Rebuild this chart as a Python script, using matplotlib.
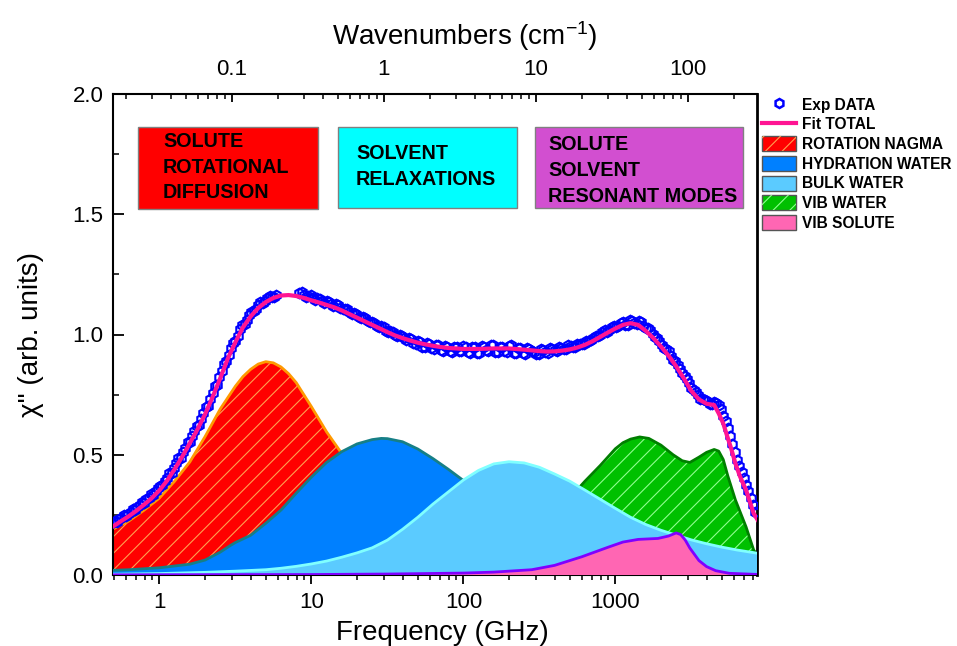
import numpy as np
import matplotlib
matplotlib.use('Agg')
import matplotlib.pyplot as plt
from matplotlib.patches import Patch, Rectangle
from matplotlib.lines import Line2D
from matplotlib.legend_handler import HandlerTuple
from matplotlib.ticker import FixedLocator, NullFormatter, LogLocator, MultipleLocator

plt.rcParams['font.family'] = ['Liberation Sans', 'DejaVu Sans']
plt.rcParams['mathtext.fontset'] = 'custom'
plt.rcParams['mathtext.rm'] = 'Liberation Sans'
plt.rcParams['mathtext.it'] = 'Liberation Sans:italic'
plt.rcParams['hatch.linewidth'] = 0.8

# ---------------- data (log10 of frequency in GHz, chi'') ----------------
rot_logf = [-0.32, -0.2, -0.1, 0.0, 0.1, 0.2, 0.3, 0.4, 0.5, 0.55, 0.6, 0.65, 0.7, 0.75, 0.8, 0.85,
            0.9, 1.0, 1.1, 1.2, 1.3, 1.4, 1.5, 1.6, 1.7, 1.8, 1.9, 2.0, 2.2, 2.4, 2.6, 2.8, 3.0, 3.5, 3.95]
rot_val = [0.186, 0.225, 0.27, 0.32, 0.39, 0.47, 0.575, 0.69, 0.785, 0.825, 0.855, 0.877, 0.887, 0.882,
           0.865, 0.837, 0.80, 0.70, 0.595, 0.505, 0.41, 0.325, 0.25, 0.19, 0.14, 0.10, 0.07, 0.05, 0.025,
           0.012, 0.006, 0.003, 0.002, 0.001, 0.001]

hyd_logf = [-0.32, -0.2, 0.0, 0.2, 0.3, 0.4, 0.465, 0.5, 0.6, 0.7, 0.8, 0.86, 0.9, 1.0, 1.1, 1.2,
            1.3, 1.4, 1.46, 1.5, 1.6, 1.7, 1.8, 1.9, 2.0, 2.1, 2.2, 2.4, 2.6, 2.8, 3.0, 3.3, 3.6, 3.95]
hyd_val = [0.019, 0.022, 0.03, 0.045, 0.062, 0.095, 0.122, 0.135, 0.165, 0.215, 0.27, 0.312, 0.34,
           0.407, 0.468, 0.513, 0.545, 0.563, 0.568, 0.567, 0.554, 0.524, 0.484, 0.44, 0.393, 0.34,
           0.29, 0.19, 0.11, 0.06, 0.03, 0.012, 0.006, 0.003]

bulk_logf = [-0.32, 0.0, 0.3, 0.5, 0.7, 0.8, 0.9, 1.0, 1.1, 1.2, 1.3, 1.4, 1.5, 1.6, 1.7, 1.8, 1.9,
             2.0, 2.1, 2.2, 2.3, 2.4, 2.5, 2.6, 2.7, 2.8, 2.9, 3.0, 3.1, 3.2, 3.3, 3.4, 3.5, 3.6,
             3.7, 3.8, 3.9, 3.95]
bulk_val = [0.003, 0.006, 0.011, 0.016, 0.022, 0.028, 0.036, 0.046, 0.058, 0.074, 0.092, 0.113,
            0.145, 0.19, 0.24, 0.295, 0.345, 0.395, 0.435, 0.462, 0.471, 0.466, 0.448, 0.42, 0.39,
            0.353, 0.315, 0.277, 0.24, 0.21, 0.186, 0.166, 0.146, 0.13, 0.116, 0.104, 0.094, 0.089]

vibw_logf = [1.8, 2.0, 2.2, 2.4, 2.6, 2.7, 2.8, 2.9, 3.0, 3.05, 3.1, 3.16, 3.22, 3.3, 3.38, 3.44,
             3.49, 3.55, 3.6, 3.65, 3.68, 3.71, 3.74, 3.79, 3.86, 3.91, 3.95]
vibw_val = [0.004, 0.012, 0.04, 0.11, 0.24, 0.32, 0.39, 0.455, 0.525, 0.55, 0.565, 0.574, 0.568,
            0.54, 0.50, 0.475, 0.468, 0.49, 0.51, 0.522, 0.515, 0.48, 0.412, 0.312, 0.20, 0.104, 0.07]

vibs_logf = [-0.32, 1.0, 1.5, 2.0, 2.2, 2.45, 2.6, 2.78, 2.95, 3.05, 3.15, 3.28, 3.35, 3.40, 3.43,
             3.46, 3.49, 3.55, 3.6, 3.66, 3.75, 3.95]
vibs_val = [0.001, 0.002, 0.004, 0.008, 0.012, 0.022, 0.04, 0.076, 0.115, 0.137, 0.148, 0.152,
            0.162, 0.175, 0.168, 0.145, 0.112, 0.06, 0.035, 0.018, 0.007, 0.002]

fit_logf = [-0.32, -0.25, -0.2, -0.15, -0.1, -0.05, 0.0, 0.05, 0.1, 0.15, 0.2, 0.25, 0.3, 0.35,
            0.4, 0.45, 0.5, 0.55, 0.6, 0.65, 0.7, 0.75, 0.8, 0.85, 0.9, 0.95, 1.0, 1.05, 1.1, 1.15,
            1.2, 1.25, 1.3, 1.35, 1.4, 1.45, 1.5, 1.55, 1.6, 1.65, 1.7, 1.75, 1.8, 1.85, 1.9, 1.95,
            2.0, 2.1, 2.2, 2.3, 2.4, 2.5, 2.55, 2.6, 2.65, 2.7, 2.75, 2.8, 2.85, 2.9, 2.95, 3.0,
            3.05, 3.1, 3.15, 3.2, 3.25, 3.3, 3.35, 3.4, 3.45, 3.5, 3.55, 3.6, 3.65, 3.68, 3.71,
            3.73, 3.76, 3.79, 3.82, 3.86, 3.91, 3.95]
fit_val = [0.196, 0.225, 0.245, 0.268, 0.293, 0.320, 0.352, 0.392, 0.440, 0.492, 0.548, 0.605,
           0.668, 0.740, 0.818, 0.900, 0.968, 1.030, 1.075, 1.110, 1.135, 1.152, 1.162, 1.164,
           1.160, 1.152, 1.142, 1.133, 1.123, 1.113, 1.100, 1.085, 1.070, 1.055, 1.040, 1.025,
           1.010, 0.996, 0.985, 0.975, 0.966, 0.959, 0.953, 0.948, 0.944, 0.942, 0.940, 0.940,
           0.942, 0.942, 0.937, 0.931, 0.929, 0.930, 0.933, 0.938, 0.946, 0.957, 0.972, 0.990,
           1.008, 1.025, 1.040, 1.047, 1.040, 1.015, 0.985, 0.950, 0.912, 0.868, 0.818, 0.765,
           0.730, 0.712, 0.707, 0.672, 0.630, 0.589, 0.530, 0.464, 0.410, 0.353, 0.256, 0.215]

# experimental points: two interleaved scans of the low- and high-frequency ranges
exp1_logf = [-0.31, -0.28, -0.25, -0.22, -0.19, -0.16, -0.13, -0.10, -0.07, -0.04, -0.01, 0.02,
             0.05, 0.08, 0.11, 0.14, 0.17, 0.20, 0.23, 0.26, 0.29, 0.32, 0.35, 0.38, 0.41, 0.44,
             0.47, 0.50, 0.53, 0.56, 0.59, 0.62, 0.65, 0.68, 0.71, 0.74, 0.77]
exp1_val = [0.215, 0.222, 0.238, 0.246, 0.262, 0.271, 0.292, 0.301, 0.322, 0.333, 0.360, 0.374,
            0.405, 0.426, 0.466, 0.488, 0.530, 0.555, 0.600, 0.624, 0.672, 0.702, 0.758, 0.790,
            0.850, 0.890, 0.944, 0.972, 1.022, 1.044, 1.080, 1.096, 1.124, 1.130, 1.150, 1.158,
            1.166]
exp1b_logf = [-0.295, -0.265, -0.235, -0.205, -0.175, -0.145, -0.115, -0.085, -0.055, -0.025,
              0.005, 0.035, 0.065, 0.095, 0.125, 0.155, 0.185, 0.215, 0.245, 0.275, 0.305, 0.335,
              0.365, 0.395, 0.425, 0.455, 0.485, 0.515, 0.545, 0.575, 0.605, 0.635, 0.665, 0.695,
              0.725, 0.755]
exp1b_val = [0.226, 0.231, 0.248, 0.255, 0.274, 0.283, 0.304, 0.314, 0.336, 0.349, 0.372, 0.392,
             0.424, 0.446, 0.486, 0.510, 0.551, 0.578, 0.621, 0.648, 0.697, 0.730, 0.784, 0.822,
             0.878, 0.916, 0.966, 0.995, 1.040, 1.060, 1.094, 1.105, 1.135, 1.138, 1.160, 1.155]

exp2_logf = [0.92, 0.95, 0.98, 1.01, 1.04, 1.07, 1.10, 1.13, 1.16, 1.19, 1.22, 1.25, 1.28, 1.31,
             1.34, 1.37, 1.40, 1.43, 1.46, 1.49, 1.52, 1.55, 1.58, 1.61, 1.64, 1.67, 1.70, 1.73,
             1.76, 1.79, 1.82, 1.85, 1.88, 1.91, 1.94, 1.97, 2.00, 2.03, 2.06, 2.09, 2.12, 2.15,
             2.18, 2.21, 2.24, 2.27, 2.30, 2.33, 2.36, 2.39, 2.42, 2.45, 2.48, 2.51, 2.54, 2.57,
             2.60, 2.63, 2.66, 2.69, 2.72, 2.75, 2.78, 2.81, 2.84, 2.87, 2.90, 2.93, 2.96, 2.99,
             3.02, 3.05, 3.08, 3.11, 3.14, 3.17, 3.20, 3.23, 3.26, 3.29, 3.32, 3.35, 3.38, 3.41,
             3.44, 3.47, 3.50, 3.53, 3.56, 3.59, 3.62, 3.65, 3.68, 3.71, 3.74, 3.77, 3.80, 3.83,
             3.86, 3.89, 3.92]
exp2_val = [1.172, 1.165, 1.162, 1.150, 1.152, 1.138, 1.140, 1.126, 1.128, 1.110, 1.108, 1.092,
            1.090, 1.074, 1.072, 1.055, 1.052, 1.036, 1.034, 1.016, 1.014, 0.998, 0.998, 0.984,
            0.986, 0.966, 0.972, 0.950, 0.966, 0.944, 0.958, 0.936, 0.952, 0.930, 0.950, 0.933,
            0.952, 0.928, 0.948, 0.925, 0.952, 0.935, 0.955, 0.928, 0.950, 0.930, 0.952, 0.925,
            0.945, 0.922, 0.944, 0.930, 0.920, 0.940, 0.928, 0.942, 0.935, 0.948, 0.940, 0.955,
            0.950, 0.962, 0.962, 0.975, 0.978, 0.995, 0.998, 1.018, 1.020, 1.035, 1.036, 1.052,
            1.040, 1.058, 1.044, 1.050, 1.025, 1.018, 0.990, 0.975, 0.945, 0.930, 0.895, 0.875,
            0.838, 0.815, 0.778, 0.760, 0.732, 0.728, 0.712, 0.720, 0.705, 0.660, 0.612, 0.545,
            0.480, 0.430, 0.375, 0.320, 0.262]
exp2b_logf = [0.935, 0.965, 0.995, 1.025, 1.055, 1.085, 1.115, 1.145, 1.175, 1.205, 1.235, 1.265,
              1.295, 1.325, 1.355, 1.385, 1.415, 1.445, 1.475, 1.505, 1.535, 1.565, 1.595, 1.625,
              1.655, 1.685, 1.715, 1.745, 1.775, 1.805, 1.835, 1.865, 1.895, 1.925, 1.955, 1.985,
              2.015, 2.045, 2.075, 2.105, 2.135, 2.165, 2.195, 2.225, 2.255, 2.285, 2.315, 2.345,
              2.375, 2.405, 2.435, 2.465, 2.495, 2.525, 2.555, 2.585, 2.615, 2.645, 2.675, 2.705,
              2.735, 2.765, 2.795, 2.825, 2.855, 2.885, 2.915, 2.945, 2.975, 3.005, 3.035, 3.065,
              3.095, 3.125, 3.155, 3.185, 3.215, 3.245, 3.275, 3.305, 3.335, 3.365, 3.395, 3.425,
              3.455, 3.485, 3.515, 3.545, 3.575, 3.605, 3.635, 3.665, 3.695, 3.725, 3.755, 3.785,
              3.815, 3.845, 3.875, 3.905]
exp2b_val = [1.178, 1.158, 1.163, 1.145, 1.149, 1.133, 1.137, 1.120, 1.124, 1.104, 1.104, 1.086,
             1.085, 1.068, 1.068, 1.050, 1.048, 1.030, 1.030, 1.010, 1.010, 0.992, 0.995, 0.978,
             0.982, 0.960, 0.970, 0.946, 0.962, 0.940, 0.956, 0.932, 0.950, 0.928, 0.948, 0.930,
             0.950, 0.924, 0.946, 0.922, 0.950, 0.932, 0.958, 0.926, 0.948, 0.928, 0.955, 0.922,
             0.942, 0.918, 0.940, 0.926, 0.918, 0.936, 0.925, 0.940, 0.932, 0.945, 0.938, 0.952,
             0.948, 0.960, 0.960, 0.972, 0.985, 0.992, 1.010, 1.012, 1.030, 1.032, 1.048, 1.038,
             1.060, 1.048, 1.056, 1.035, 1.028, 1.002, 0.986, 0.958, 0.940, 0.912, 0.888, 0.856,
             0.828, 0.798, 0.770, 0.748, 0.730, 0.722, 0.712, 0.716, 0.690, 0.640, 0.580, 0.512,
             0.455, 0.402, 0.350, 0.292]

x_ticks = [1, 10, 100, 1000]
x_ticklabels = ['1', '10', '100', '1000']
top_ticks = [0.1, 1, 10, 100]
top_ticklabels = ['0.1', '1', '10', '100']
y_ticks = [0.0, 0.5, 1.0, 1.5, 2.0]
y_ticklabels = ['0.0', '0.5', '1.0', '1.5', '2.0']
GHZ_PER_CM = 29.98

legend_labels = ['Exp DATA', 'Fit TOTAL', 'ROTATION NAGMA', 'HYDRATION WATER', 'BULK WATER',
                 'VIB WATER', 'VIB SOLUTE']
box_texts = ['SOLUTE\nROTATIONAL\nDIFFUSION', 'SOLVENT\nRELAXATIONS', 'SOLUTE\nSOLVENT\nRESONANT MODES']

# ---------------- figure ----------------
W, H = 957, 646
fig = plt.figure(figsize=(W / 100, H / 100), dpi=100)


def fx(x):
    return x / W


def fy(y):
    return 1 - y / H


ax = fig.add_axes([fx(113), fy(575), fx(757) - fx(113), fy(94) - fy(575)])
ax.set_xscale('log')
XLIM = (0.495, 8550)
ax.set_xlim(*XLIM)
ax.set_ylim(0, 2.0)


def comp(logf, vals, face, edge, z, hatch=None, hcol=None):
    f = 10 ** np.array(logf)
    v = np.array(vals)
    ax.fill_between(f, 0, v, facecolor=face, edgecolor='none', lw=0, zorder=z)
    if hatch:
        ax.fill_between(f, 0, v, facecolor='none', edgecolor=hcol, hatch=hatch, lw=0, zorder=z)
    ax.plot(f, v, color=edge, lw=2, zorder=z, solid_capstyle='round')


C_ROT, C_ROT_E, C_ROT_H = '#FF0000', '#FF9900', '#FFA050'
C_HYD, C_HYD_E = '#0080FF', '#167F86'
C_BULK, C_BULK_E = '#5BCBFF', '#80FFFF'
C_VW, C_VW_E, C_VW_H = '#00C000', '#007F00', '#90FF90'
C_VS, C_VS_E = '#FF66B3', '#8000FF'
C_FIT = '#FF1493'
C_EXP = '#0000FF'

comp(rot_logf, rot_val, C_ROT, C_ROT_E, 1, '//', C_ROT_H)
comp(vibw_logf, vibw_val, C_VW, C_VW_E, 2, '//', C_VW_H)
comp(hyd_logf, hyd_val, C_HYD, C_HYD_E, 3)
comp(bulk_logf, bulk_val, C_BULK, C_BULK_E, 4)
comp(vibs_logf, vibs_val, C_VS, C_VS_E, 5)

for lf, vv in [(exp1_logf, exp1_val), (exp1b_logf, exp1b_val),
               (exp2_logf, exp2_val), (exp2b_logf, exp2b_val)]:
    ax.plot(10 ** np.array(lf), vv, ls='none', marker='h', ms=7, mfc='none', mec=C_EXP,
            mew=1.5, zorder=6)
ax.plot(10 ** np.array(fit_logf), fit_val, color=C_FIT, lw=3, zorder=7)

# ticks
ax.xaxis.set_major_locator(FixedLocator(x_ticks))
ax.set_xticklabels(x_ticklabels)
ax.xaxis.set_minor_locator(LogLocator(base=10, subs=np.arange(2, 10)))
ax.xaxis.set_minor_formatter(NullFormatter())
ax.set_yticks(y_ticks)
ax.set_yticklabels(y_ticklabels)
ax.yaxis.set_minor_locator(MultipleLocator(0.25))
ax.tick_params(axis='x', which='major', direction='out', length=6.5, width=1.3, labelsize=16,
               pad=6, top=False)
ax.tick_params(axis='x', which='minor', direction='out', length=3.5, width=1.1, top=False)
ax.tick_params(axis='y', which='major', direction='in', length=8, width=1.3, labelsize=16,
               pad=7, right=False)
ax.tick_params(axis='y', which='minor', direction='in', length=4, width=1.1, right=False)
for s in ['left', 'bottom', 'top']:
    ax.spines[s].set_linewidth(1.5)
ax.spines['right'].set_linewidth(2)

ax.set_xlabel('Frequency (GHz)', fontsize=20, labelpad=5)
ax.xaxis.label.set_x(0.512)
ax.set_ylabel('χ" (arb. units)', fontsize=20, labelpad=20)

ax2 = ax.twiny()
ax2.set_xscale('log')
ax2.set_xlim(XLIM[0] / GHZ_PER_CM, XLIM[1] / GHZ_PER_CM)
ax2.xaxis.set_major_locator(FixedLocator(top_ticks))
ax2.set_xticklabels(top_ticklabels)
ax2.xaxis.set_minor_locator(LogLocator(base=10, subs=np.arange(2, 10)))
ax2.xaxis.set_minor_formatter(NullFormatter())
ax2.tick_params(axis='x', which='major', direction='in', length=6, width=1.3, labelsize=16, pad=10)
ax2.tick_params(axis='x', which='minor', direction='in', length=3.5, width=1.1)
ax2.set_xlabel('Wavenumbers (cm$^{-1}$)', fontsize=20, labelpad=10)
ax2.xaxis.label.set_x(0.547)
for s in ax2.spines.values():
    s.set_visible(False)

# annotation boxes
boxes = [((138, 127, 318, 209), '#FF0000', (163, 132)),
         ((338, 127, 517, 208), '#00FFFF', (356, 144)),
         ((535, 127, 743, 208), '#D24FD0', (548, 135))]
for (x0, y0, x1, y1), col, (tx, ty) in boxes:
    fig.add_artist(Rectangle((fx(x0), fy(y1)), fx(x1) - fx(x0), fy(y0) - fy(y1),
                             transform=fig.transFigure, facecolor=col, edgecolor='#808080',
                             lw=1, zorder=8))
for ((x0, y0, x1, y1), col, (tx, ty)), t in zip(boxes, box_texts):
    fig.text(fx(tx), fy(ty), t, ha='left', va='top', fontsize=14.2, fontweight='bold',
             linespacing=1.45, zorder=9)

# legend
handles = [
    Line2D([], [], ls='none', marker='h', ms=6.5, mfc='none', mec=C_EXP, mew=1.8),
    Line2D([], [], color=C_FIT, lw=3),
    (Patch(facecolor=C_ROT, edgecolor='#555555', lw=1),
     Patch(facecolor='none', edgecolor=C_ROT_H, hatch='//', lw=0)),
    Patch(facecolor=C_HYD, edgecolor='#555555', lw=1),
    Patch(facecolor=C_BULK, edgecolor='#555555', lw=1),
    (Patch(facecolor=C_VW, edgecolor='#555555', lw=1),
     Patch(facecolor='none', edgecolor=C_VW_H, hatch='//', lw=0)),
    Patch(facecolor=C_VS, edgecolor='#555555', lw=1),
]
fig.legend(handles, legend_labels, loc='upper left', bbox_to_anchor=(fx(762), fy(97)),
           frameon=False, prop={'weight': 'bold', 'size': 11.2}, handlelength=2.2,
           handleheight=1.1, handletextpad=0.4, labelspacing=0.25, borderaxespad=0,
           borderpad=0, handler_map={tuple: HandlerTuple(ndivide=1, pad=0)})

fig.savefig('out.png', dpi=100)
